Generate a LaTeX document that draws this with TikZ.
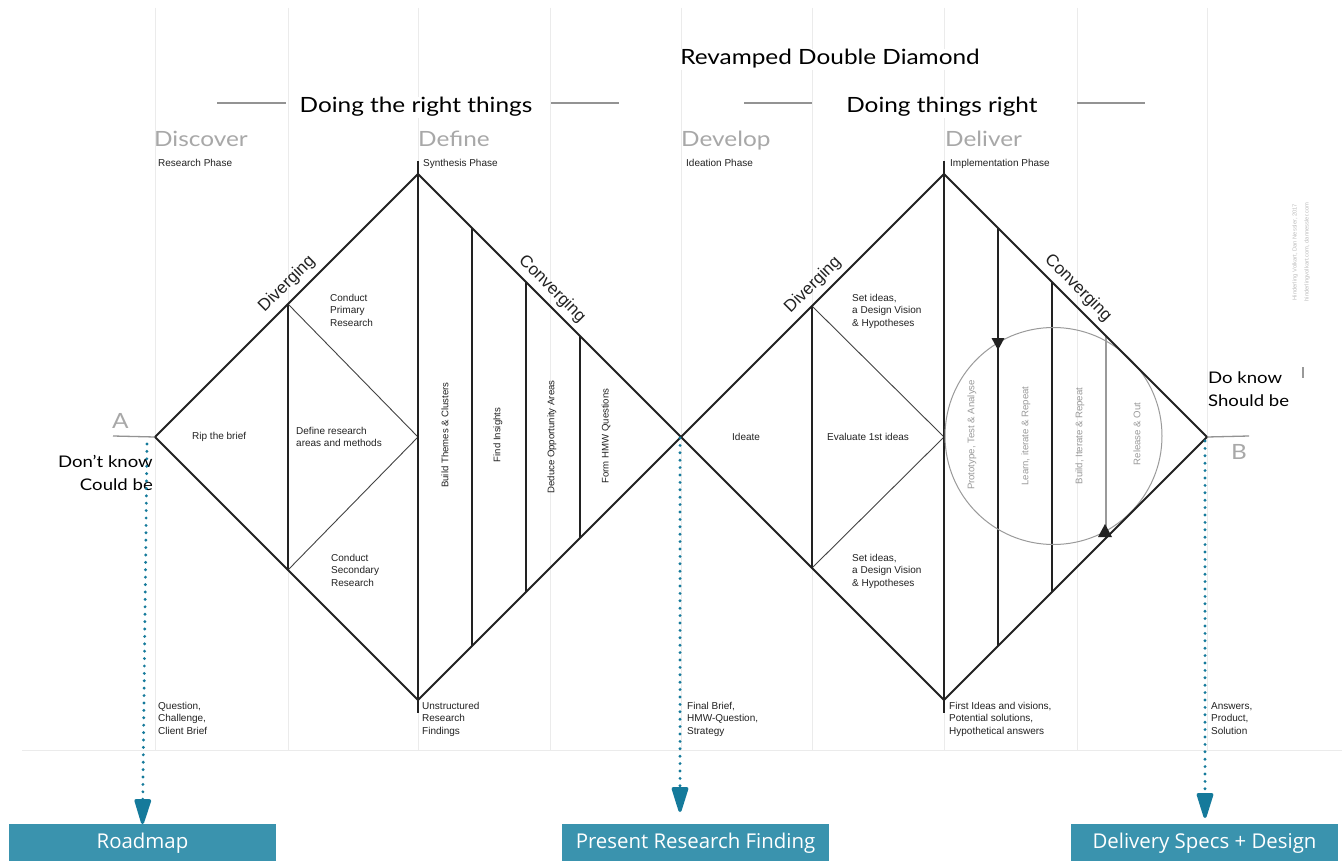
\documentclass[tikz,border=0pt]{standalone}
\usepackage{fontspec}
\setmainfont{Liberation Sans}
\newfontfamily\headfont[FakeStretch=1.16]{Lato}
\newfontfamily\boxfont{Open Sans}
\usetikzlibrary{arrows.meta,calc}
\definecolor{gridc}{HTML}{EBEBEB}
\definecolor{phasec}{HTML}{A8A8A8}
\definecolor{ink}{HTML}{222222}
\definecolor{boxteal}{HTML}{3A93AE}
\definecolor{dotc}{HTML}{157A9B}
\definecolor{circc}{HTML}{9A9A9A}
\definecolor{credc}{HTML}{BDBDBD}
\begin{document}
\begin{tikzpicture}[x=1pt,y=-1pt,
  grid/.style={draw=gridc, line width=1pt},
  edge/.style={draw=ink, line width=1.9pt},
  inner/.style={draw=ink, line width=1.1pt},
  thinl/.style={draw=ink!85, line width=0.9pt},
  small/.style={font=\fontsize{10}{12.5}\selectfont, inner sep=0pt, align=left, text=ink},
  vlabel/.style={font=\fontsize{9.6}{11}\selectfont, inner sep=0pt, rotate=90, text=ink},
  clabel/.style={font=\fontsize{9.6}{11}\selectfont, inner sep=0pt, rotate=90, text=circc},
  phase/.style={font=\headfont\fontsize{21}{24}\selectfont, text=phasec, inner sep=0pt, anchor=base west},
  head/.style={font=\headfont\fontsize{21}{24}\selectfont, text=black, fill=white, inner sep=1pt, anchor=base},
  side/.style={font=\headfont\fontsize{16}{23}\selectfont, text=black, inner sep=0pt},
  hline/.style={draw=gray!85, line width=1.2pt},
  dirlabel/.style={font=\fontsize{17}{20}\selectfont, inner sep=0pt, text=ink},
  outbox/.style={fill=boxteal, text=white, font=\boxfont\fontsize{20.4}{24}\selectfont, minimum width=267pt, minimum height=38pt, anchor=north, inner sep=0pt},
  dotarrow/.style={draw=dotc, line width=3.2pt, line cap=round, dash pattern=on 0pt off 7.4pt, -{Triangle[length=29pt,width=17pt,fill=dotc,round=false]}},
]
\useasboundingbox (0,0) rectangle (1342,861);
\fill[white] (0,0) rectangle (1342,861);

% grid
\foreach \gx in {155,288,418,550,681,812,944,1077,1207}
  \draw[grid] (\gx,8) -- (\gx,750);
\draw[grid] (22,750) -- (1342,750);

% heading lines
\draw[hline] (217,103) -- (286,103);
\draw[hline] (551,103) -- (619,103);
\draw[hline] (744,103) -- (812,103);
\draw[hline] (1077,103) -- (1145,103);

% headings
\node[head] (title) at (830,65) {Revamped Double Diamond};
\node[head] (h1) at (416,113) {Doing the right things};
\node[head] (h2) at (942,113) {Doing things right};

% phases
\node[phase] (discover) at (154,147) {Discover};
\node[phase] (define) at (418,147) {Define};
\node[phase] (develop) at (681,147) {Develop};
\node[phase] (deliver) at (945,147) {Deliver};
\node[small, anchor=north west] (p1) at (158,159) {Research Phase};
\node[small, anchor=north west] (p2) at (423,159) {Synthesis Phase};
\node[small, anchor=north west] (p3) at (686,159) {Ideation Phase};
\node[small, anchor=north west] (p4) at (950,159) {Implementation Phase};

% diamonds
\coordinate (L1) at (155,437);
\coordinate (T1) at (418,174);
\coordinate (R1) at (681,437);
\coordinate (B1) at (418,700);
\coordinate (T2) at (944,174);
\coordinate (R2) at (1207,437);
\coordinate (B2) at (944,700);

% left diamond inner lines
\draw[inner] (288,304) -- (288,570);
\draw[thinl] (288,304) -- (418,437) -- (288,570);
\draw[inner] (418,161) -- (418,713);
\draw[inner] (472,228) -- (472,646);
\draw[inner] (526,282) -- (526,592);
\draw[inner] (580,336) -- (580,538);

% right diamond inner lines
\draw[inner] (812,306) -- (812,568);
\draw[thinl] (812,306) -- (944,437) -- (812,568);
\draw[inner] (944,161) -- (944,713);
\draw[inner] (998,228) -- (998,646);
\draw[inner] (1052,282) -- (1052,592);
\draw[draw=circc, line width=1.1pt] (1106,336) -- (1106,538);
\draw[draw=circc, line width=1pt] (1053.5,436) circle[radius=108.5];
\fill[ink] (991.5,338) -- (1004.5,338) -- (998,350) -- cycle;
\fill[ink] (1098,537) -- (1112,537) -- (1105,524) -- cycle;

\draw[edge, line join=miter] (L1) -- (T1) -- (R1) -- (B1) -- cycle;
\draw[edge, line join=miter] (R1) -- (T2) -- (R2) -- (B2) -- cycle;

% direction labels
\node[dirlabel, rotate=45] (div1) at (287,284) {Diverging};
\node[dirlabel, rotate=-45] (conv1) at (552,289) {Converging};
\node[dirlabel, rotate=45] (div2) at (813,285) {Diverging};
\node[dirlabel, rotate=-45] (conv2) at (1078,288) {Converging};

% left diamond labels
\node[small, anchor=west] (rip) at (192,437) {Rip the brief};
\node[small, anchor=north west] (defr) at (296,427) {Define research\\areas and methods};
\node[small, anchor=north west] (cpr) at (330,294) {Conduct\\Primary\\Research};
\node[small, anchor=north west] (csr) at (331,554) {Conduct\\Secondary\\Research};
\node[vlabel] (themes) at (445,435) {Build Themes \& Clusters};
\node[vlabel] (insights) at (498,435) {Find Insights};
\node[vlabel] (deduce) at (552,437) {Deduce Opportunity Areas};
\node[vlabel] (hmw) at (606,436) {Form HMW Questions};

% right diamond labels
\node[small, anchor=west] (ideate) at (732,437) {Ideate};
\node[small, anchor=west] (eval) at (827,437) {Evaluate 1st ideas};
\node[small, anchor=north west] (set1) at (852,294) {Set ideas,\\a Design Vision\\\& Hypotheses};
\node[small, anchor=north west] (set2) at (852,554) {Set ideas,\\a Design Vision\\\& Hypotheses};
\node[clabel] (proto) at (972,435) {Prototype, Test \& Analyse};
\node[clabel] (learn) at (1026,436) {Learn, iterate \& Repeat};
\node[clabel] (build) at (1080,436) {Build, Iterate \& Repeat};
\node[clabel] (release) at (1137,434) {Release \& Out};

% A / B
\draw[draw=gray!85, line width=1.3pt] (113,436) -- (L1);
\draw[draw=gray!85, line width=1.3pt] (R2) -- (1249,436);
\node[phase] (A) at (112,428) {A};
\node[phase] (B) at (1231,459) {B};
\node[side, anchor=north east, align=right] (dk) at (153,455) {Don’t know\\Could be};
\node[side, anchor=north west, align=left] (dok) at (1208,372) {Do know\\Should be};
\draw[draw=gray!80, line width=1.1pt] (1303,367) -- (1303,378);

% credits
\node[font=\fontsize{5.8}{12}\selectfont, text=credc, rotate=90, inner sep=0pt, align=center] (credit) at (1301,252) {Hinderling Volkart, Dan Nessler, 2017\\hinderlingvolkart.com, dannessler.com};

% bottom texts
\node[small, anchor=north west] (b1) at (158,702) {Question,\\Challenge,\\Client Brief};
\node[small, anchor=north west] (b2) at (422,702) {Unstructured\\Research\\Findings};
\node[small, anchor=north west] (b3) at (687,702) {Final Brief,\\HMW-Question,\\Strategy};
\node[small, anchor=north west] (b4) at (949,702) {First Ideas and visions,\\Potential solutions,\\Hypothetical answers};
\node[small, anchor=north west] (b5) at (1211,702) {Answers,\\Product,\\Solution};

% output boxes
\node[outbox] (roadmap) at (142.5,824) {Roadmap};
\node[outbox] (present) at (695.5,824) {Present Research Finding};
\node[outbox] (specs) at (1204.5,824) {Delivery Specs + Design};

% dotted arrows
\coordinate (sA) at (147,444);
\coordinate (sM) at (680,438);
\coordinate (sB) at (1205,441);
\draw[dotarrow] (sA) -- (roadmap.north);
\draw[dotarrow, shorten >=12pt] (sM) -- (sM |- present.north);
\draw[dotarrow, shorten >=6pt] (sB) -- (sB |- specs.north);
\end{tikzpicture}
\end{document}
